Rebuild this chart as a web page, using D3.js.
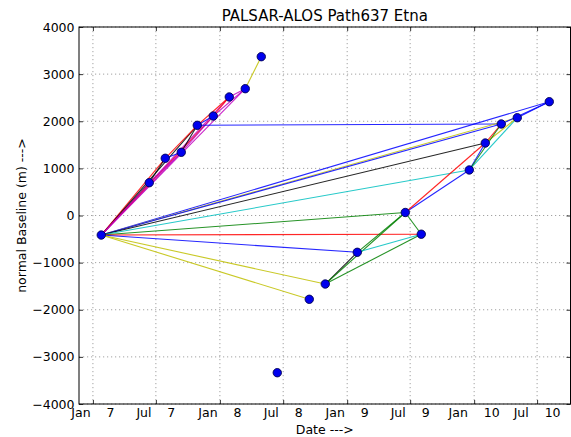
<!DOCTYPE html>
<html>
<head>
<meta charset="utf-8">
<script src="https://cdn.jsdelivr.net/npm/d3@7"></script>
<style>
html,body{margin:0;padding:0;background:#fff;}
svg{display:block;font-family:"DejaVu Sans",sans-serif;}
</style>
</head>
<body>
<svg id="chart" width="571" height="437"></svg>
<script>
// ---- data ----
const acqDates = ["2007-01-25","2007-06-12","2007-07-28","2007-09-12","2007-10-28","2007-12-13",
  "2008-01-28","2008-03-14","2008-04-29","2008-06-14","2008-09-14","2008-10-30","2009-01-30",
  "2009-06-17","2009-08-02","2009-12-18","2010-02-02","2010-03-20","2010-05-05","2010-08-05"];
const baselines = [-415,696,1214,1341,1914,2111,2515,2691,3370,-3336,-1778,-1454,-781,
  64,-397,966,1538,1942,2075,2415];
const edgeFrom  = [0,0,0,0,0,0,0, 1,1,2,2,3,3,4,4,5,5,6,7, 4, 0,0,0,0,0,0,0,0,0,0, 11,11,11,12,12,13,13,13,15,15,16,16,17,18,15];
const edgeTo    = [1,2,3,4,5,6,7, 2,3,3,4,4,5,5,6,6,7,7,8, 17, 19,18,17,16,15,13,14,12,11,10, 12,13,14,13,14,14,15,16,16,18,17,18,19,19,17];
const edgeColor = ["k","r","m","k","r","m","m", "k","m","b","r","k","m","b","r","r","m","m","y", "b",
  "b","y","b","k","c","g","r","b","y","y", "k","g","g","g","c","g","b","r","b","c","r","y","b","b","g"];
const xTickDates  = ["2007-01-01","2007-07-01","2008-01-01","2008-07-01","2009-01-01","2009-07-01","2010-01-01","2010-07-01"];
const xTickMonths = ["Jan","Jul","Jan","Jul","Jan","Jul","Jan","Jul"];
const xTickYears  = ["7","7","8","8","9","9","10","10"];
const yTicks = [-4000,-3000,-2000,-1000,0,1000,2000,3000,4000];
const xDomain = ["2006-11-22","2010-10-05"];
const yDomain = [-4000,4000];

// ---- layout ----
const colors = {b:"#0000ff",g:"#008000",r:"#ff0000",c:"#00bfbf",m:"#bf00bf",y:"#bfbf00",k:"#000000"};
const L=79, R=570.5, T=27, B=404;
const parse = d3.utcParse("%Y-%m-%d");
const svg = d3.select("#chart");
const x = d3.scaleUtc().domain(xDomain.map(parse)).range([L,R]);
const y = d3.scaleLinear().domain(yDomain).range([B,T]);

// grid
const grid = svg.append("g").attr("stroke","#8a8a8a").attr("stroke-width",0.8).attr("stroke-dasharray","1.2,2.8");
grid.selectAll("line.gx").data(xTickDates).join("line")
  .attr("x1",d=>x(parse(d))).attr("x2",d=>x(parse(d))).attr("y1",T).attr("y2",B);
grid.selectAll("line.gy").data(yTicks).join("line")
  .attr("y1",d=>y(d)).attr("y2",d=>y(d)).attr("x1",L).attr("x2",R);

// edges
const pts = acqDates.map((d,i)=>({x:x(parse(d)), y:y(baselines[i])}));
svg.append("g").selectAll("line").data(edgeFrom.map((f,i)=>({f,t:edgeTo[i],c:edgeColor[i]}))).join("line")
  .attr("x1",d=>pts[d.f].x).attr("y1",d=>pts[d.f].y)
  .attr("x2",d=>pts[d.t].x).attr("y2",d=>pts[d.t].y)
  .attr("stroke",d=>colors[d.c]).attr("stroke-width",1.1).attr("stroke-opacity",0.85);

// markers
svg.append("g").selectAll("circle").data(pts).join("circle")
  .attr("cx",d=>d.x).attr("cy",d=>d.y).attr("r",4.2)
  .attr("fill","#0000ee").attr("stroke","#000050").attr("stroke-width",0.9);

// axes (inward ticks on all sides)
const tl = 4;
const ax = svg.append("g");
ax.append("g").attr("transform",`translate(0,${B})`)
  .call(d3.axisBottom(x).tickValues(xTickDates.map(parse)).tickSizeInner(-tl).tickSizeOuter(0).tickFormat(""))
  .call(g=>g.select(".domain").remove());
ax.append("g").attr("transform",`translate(0,${T})`)
  .call(d3.axisTop(x).tickValues(xTickDates.map(parse)).tickSizeInner(-tl).tickSizeOuter(0).tickFormat(""))
  .call(g=>g.select(".domain").remove());
ax.append("g").attr("transform",`translate(${L},0)`)
  .call(d3.axisLeft(y).tickValues(yTicks).tickSizeInner(-tl).tickSizeOuter(0).tickFormat(""))
  .call(g=>g.select(".domain").remove());
ax.append("g").attr("transform",`translate(${R},0)`)
  .call(d3.axisRight(y).tickValues(yTicks).tickSizeInner(-tl).tickSizeOuter(0).tickFormat(""))
  .call(g=>g.select(".domain").remove());
ax.selectAll(".tick line").attr("stroke","#000").attr("stroke-width",0.8);
svg.append("rect").attr("x",L).attr("y",T).attr("width",R-L).attr("height",B-T)
  .attr("fill","none").attr("stroke","#000").attr("stroke-width",1);

// tick labels
svg.append("g").attr("font-size",12.5).attr("fill","#000").attr("text-anchor","end")
  .selectAll("text").data(yTicks).join("text")
  .attr("x",L-4.5).attr("y",d=>y(d)).attr("dy","0.36em")
  .text(d=>d<0? "\u2212"+Math.abs(d) : String(d));
svg.append("g").attr("font-size",12.5).attr("fill","#000").attr("text-anchor","middle")
  .selectAll("text").data(xTickDates).join("text")
  .attr("x",d=>x(parse(d))).attr("y",417)
  .style("white-space","pre")
  .text((d,i)=>xTickMonths[i]+"    "+xTickYears[i]);

// titles
svg.append("text").attr("x",(L+R)/2).attr("y",21).attr("text-anchor","middle")
  .attr("font-size",15).text("PALSAR-ALOS Path637 Etna");
svg.append("text").attr("x",(L+R)/2).attr("y",433.5).attr("text-anchor","middle")
  .attr("font-size",12.5).style("white-space","pre").text("Date --->");
svg.append("text").attr("transform",`translate(26,${(T+B)/2}) rotate(-90)`).attr("text-anchor","middle")
  .attr("font-size",12.5).text("normal Baseline (m) --->");
</script>
</body>
</html>
